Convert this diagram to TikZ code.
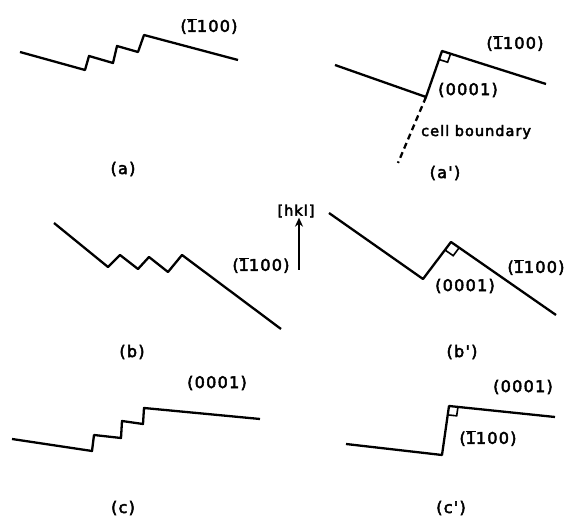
\documentclass[tikz,border=0pt]{standalone}
\usepackage{fontspec}
\usetikzlibrary{calc,arrows.meta}
\newfontfamily\lblfont[LetterSpace=8,FakeBold=3]{DejaVu Sans}
\newfontfamily\lbltight[LetterSpace=7,FakeBold=3]{DejaVu Sans}
\newcommand\bone{\ensuremath{\overline{\mbox{1}}}}
\tikzset{
  wall/.style={line width=2.3pt, line join=round},
  sq/.style={line width=1.6pt},
  lbl/.style={font=\lblfont\fontsize{16}{18}\selectfont, inner sep=0pt},
  lbls/.style={font=\lbltight\fontsize{14.5}{16}\selectfont, inner sep=0pt},
}
\begin{document}
\begin{tikzpicture}[x=1pt,y=-1pt]
\useasboundingbox[fill=white] (0,0) rectangle (566,518);
% ---------- (a)
\coordinate (a1) at (20,52);
\coordinate (a2) at (85,70);
\coordinate (a3) at (89,56);
\coordinate (a4) at (113,63);
\coordinate (a5) at (117,46);
\coordinate (a6) at (138,52);
\coordinate (a7) at (144,35);
\coordinate (a8) at (238,60);
\draw[wall] (a1)--(a2)--(a3)--(a4)--(a5)--(a6)--(a7)--(a8);
\node[lbl] (la) at (209,26) {(\bone100)};
\node[lbl] (capa) at (123,169) {(a)};
% ---------- (a')
\coordinate (ap1) at (335,65);
\coordinate (ap2) at (426,97);
\coordinate (ap3) at (442,51);
\coordinate (ap4) at (546,84);
\coordinate (ap5) at (398,163);
\draw[wall] (ap1)--(ap2)--(ap3)--(ap4);
\draw[line width=2.3pt, dash pattern=on 6pt off 4pt] (ap2)--(ap5);
\coordinate (apq1) at ($(ap3)!9pt!(ap2)$);
\coordinate (apq2) at ($(ap3)!9pt!(ap4)$);
\draw[sq] (apq1)--($(apq1)+(apq2)-(ap3)$)--(apq2);
\node[lbl] (lap1) at (515,43) {(\bone100)};
\node[lbl] (lap2) at (468,90) {(0001)};
\node[lbls, anchor=west] (lap3) at (421,132) {cell boundary};
\node[lbl] (capap) at (445,173) {(a')};
% ---------- (b)
\coordinate (b1) at (54,223);
\coordinate (b2) at (108,267);
\coordinate (b3) at (120,255);
\coordinate (b4) at (138,269);
\coordinate (b5) at (149,257);
\coordinate (b6) at (168,272);
\coordinate (b7) at (182,255);
\coordinate (b8) at (281,329);
\draw[wall] (b1)--(b2)--(b3)--(b4)--(b5)--(b6)--(b7)--(b8);
\node[lbl] (lb) at (261,265) {(\bone100)};
\node[lbls] (hkl) at (296,211) {[hkl]};
\coordinate (arrb) at (299,270);
\draw[line width=2.3pt, -{Stealth[length=9pt,width=8pt]}] (arrb)--(hkl.south -| arrb);
\node[lbl] (capb) at (132,352) {(b)};
% ---------- (b')
\coordinate (bp1) at (329,213);
\coordinate (bp2) at (423,279);
\coordinate (bp3) at (451,242);
\coordinate (bp4) at (556,315);
\draw[wall] (bp1)--(bp2)--(bp3)--(bp4);
\coordinate (bpq1) at ($(bp3)!10pt!(bp2)$);
\coordinate (bpq2) at ($(bp3)!10pt!(bp4)$);
\draw[sq] (bpq1)--($(bpq1)+(bpq2)-(bp3)$)--(bpq2);
\node[lbl] (lbp1) at (465,286) {(0001)};
\node[lbl] (lbp2) at (536,267) {(\bone100)};
\node[lbl] (capbp) at (462,352) {(b')};
% ---------- (c)
\coordinate (c1) at (12,439);
\coordinate (c2) at (92,451);
\coordinate (c3) at (94,435);
\coordinate (c4) at (121,438);
\coordinate (c5) at (122,421);
\coordinate (c6) at (143,424);
\coordinate (c7) at (144,408);
\coordinate (c8) at (260,419);
\draw[wall] (c1)--(c2)--(c3)--(c4)--(c5)--(c6)--(c7)--(c8);
\node[lbl] (lc) at (217,383) {(0001)};
\node[lbl] (capc) at (123,508) {(c)};
% ---------- (c')
\coordinate (cp1) at (346,444);
\coordinate (cp2) at (442,455);
\coordinate (cp3) at (449,406);
\coordinate (cp4) at (555,417);
\draw[wall] (cp1)--(cp2)--(cp3)--(cp4);
\coordinate (cpq1) at ($(cp3)!9pt!(cp2)$);
\coordinate (cpq2) at ($(cp3)!9pt!(cp4)$);
\draw[sq] (cpq1)--($(cpq1)+(cpq2)-(cp3)$)--(cpq2);
\node[lbl] (lcp1) at (523,387) {(0001)};
\node[lbl] (lcp2) at (488,438) {(\bone100)};
\node[lbl] (capcp) at (451,508) {(c')};
\end{tikzpicture}
\end{document}
